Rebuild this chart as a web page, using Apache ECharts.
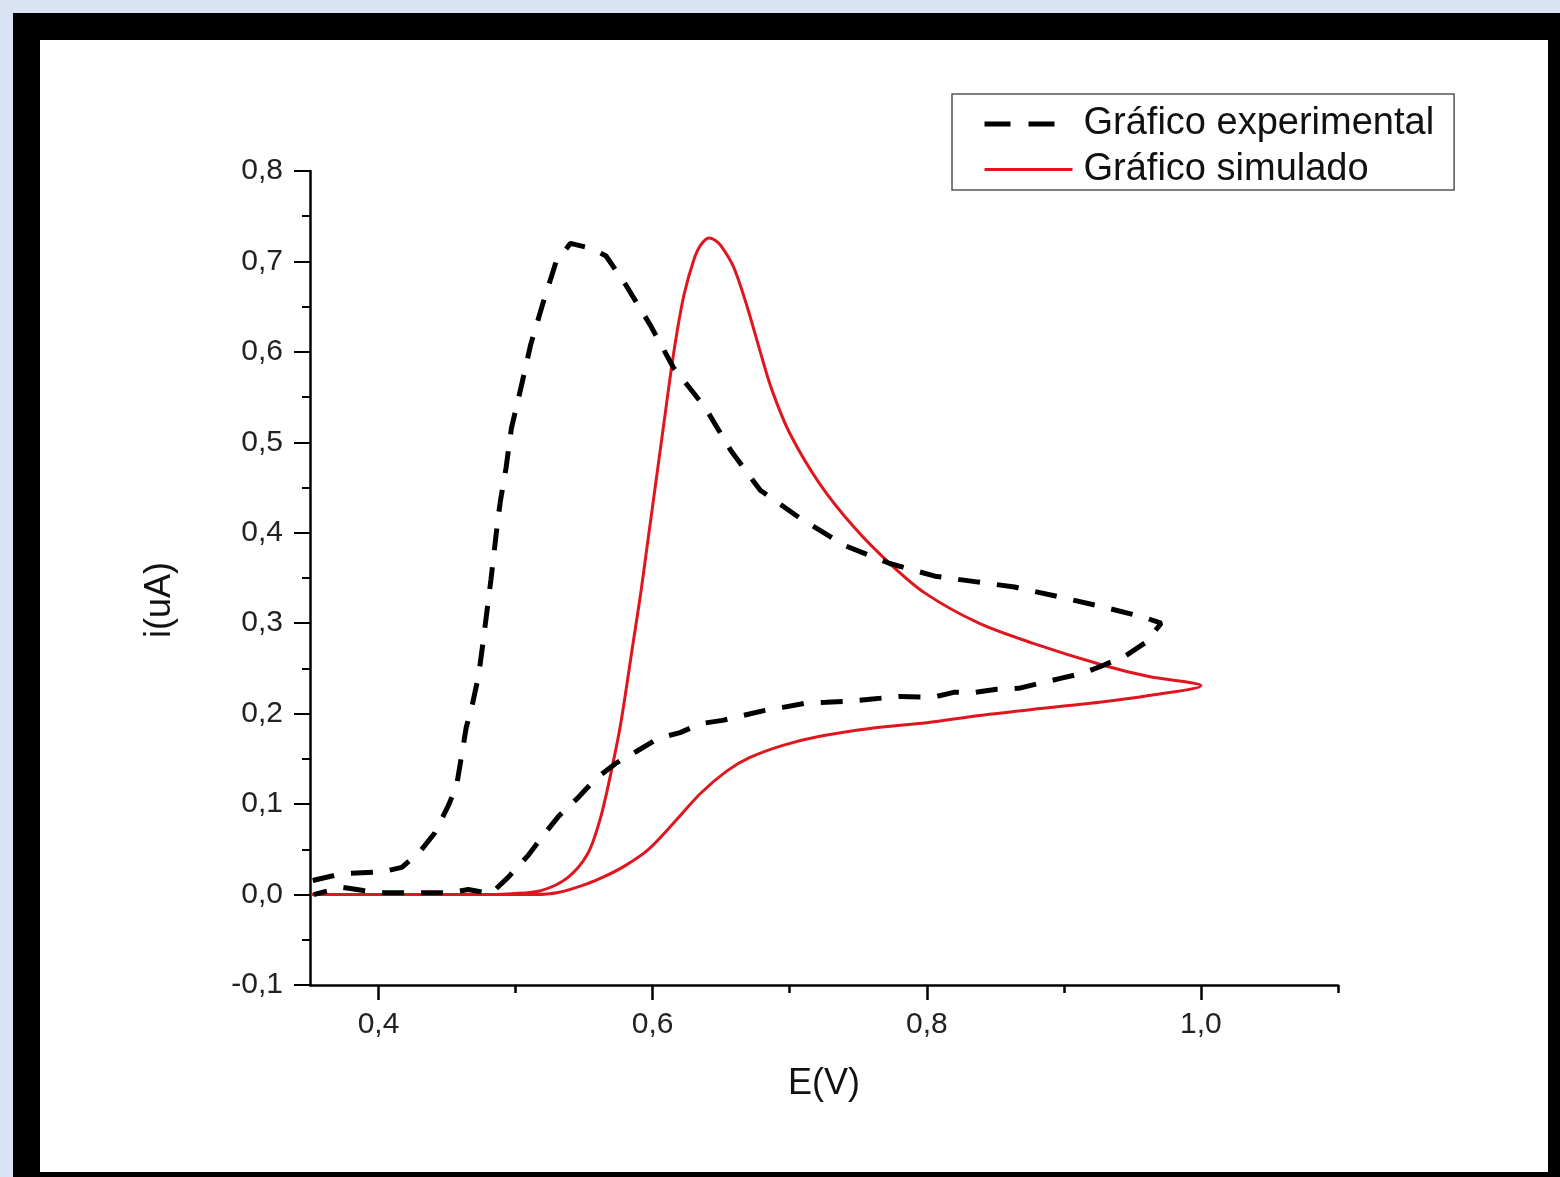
<!DOCTYPE html>
<html>
<head>
<meta charset="utf-8">
<script src="https://cdn.jsdelivr.net/npm/echarts@6/dist/echarts.min.js"></script>
<style>
  html, body { margin: 0; padding: 0; background: #dae3f3; }
  #frame { position: absolute; left: 13px; top: 13px; width: 1547px; height: 1164px; background: #000; }
  #main { position: absolute; left: 40px; top: 40px; width: 1508px; height: 1132px; background: #fff; }
</style>
</head>
<body>
<div id="frame"></div>
<div id="main"></div>
<script>
// curva experimental (varredura completa, na ordem do traçado)
const expE = [0.352, 0.373, 0.402, 0.417, 0.431, 0.441, 0.451, 0.457, 0.460, 0.464, 0.468, 0.473, 0.476, 0.482,
  0.487, 0.489, 0.493, 0.497, 0.504, 0.511, 0.520, 0.5295, 0.540, 0.556, 0.566, 0.580, 0.5985, 0.615, 0.6385,
  0.657, 0.6785, 0.7076, 0.740, 0.773, 0.806, 0.835, 0.864, 0.897, 0.926, 0.9585, 0.971,
  0.960, 0.9455, 0.929, 0.9135, 0.8975, 0.882, 0.867, 0.851, 0.8356, 0.8196, 0.8044, 0.780, 0.7585, 0.742,
  0.7265, 0.7105, 0.695, 0.682, 0.666, 0.651, 0.635, 0.620, 0.604, 0.589, 0.573, 0.5585, 0.5455, 0.5316,
  0.520, 0.509, 0.4945, 0.482, 0.4655, 0.451, 0.4335, 0.419, 0.4036, 0.389, 0.373, 0.3527];
const expI = [0.0155, 0.023, 0.025, 0.030, 0.049, 0.068, 0.0985, 0.121, 0.148, 0.185, 0.207, 0.242, 0.276, 0.348,
  0.414, 0.436, 0.4715, 0.516, 0.561, 0.608, 0.654, 0.6995, 0.720, 0.714, 0.706, 0.675, 0.629, 0.583, 0.538,
  0.491, 0.447, 0.416, 0.386, 0.366, 0.352, 0.346, 0.340, 0.329, 0.319, 0.3065, 0.300,
  0.279, 0.2645, 0.2535, 0.2446, 0.239, 0.2335, 0.228, 0.227, 0.2236, 0.2236, 0.218, 0.219, 0.216, 0.2136,
  0.2125, 0.2114, 0.207, 0.2036, 0.198, 0.1926, 0.189, 0.179, 0.1727, 0.159, 0.145, 0.128, 0.107, 0.087,
  0.065, 0.043, 0.019, 0.001, 0.0055, 0.002, 0.002, 0.002, 0.002, 0.0045, 0.008, 0.0];

// curva simulada
const simE = [0.351, 0.417, 0.475, 0.497, 0.5185, 0.538, 0.5527, 0.562, 0.5695, 0.5767, 0.586, 0.591, 0.5955,
  0.600, 0.6045, 0.609, 0.6135, 0.618, 0.623, 0.630, 0.635, 0.641, 0.645, 0.6495, 0.659, 0.669, 0.6785, 0.687,
  0.700, 0.7215, 0.747, 0.773, 0.799, 0.838, 0.877, 0.9287, 0.962, 1.0,
  0.962, 0.926, 0.877, 0.8385, 0.800, 0.7585, 0.722, 0.695, 0.671, 0.6545, 0.635, 0.615, 0.597, 0.580, 0.565,
  0.5527, 0.531, 0.5135, 0.453, 0.351];
const simI = [0.0, 0.0, 0.0, 0.001, 0.0044, 0.0188, 0.0454, 0.085, 0.134, 0.189, 0.281, 0.330, 0.380,
  0.430, 0.480, 0.530, 0.580, 0.624, 0.664, 0.7017, 0.718, 0.726, 0.724, 0.718, 0.694, 0.6497, 0.600, 0.558,
  0.510, 0.455, 0.406, 0.366, 0.333, 0.300, 0.278, 0.2535, 0.241, 0.231,
  0.220, 0.2125, 0.2047, 0.198, 0.190, 0.1837, 0.175, 0.165, 0.1516, 0.137, 0.112, 0.0786, 0.050, 0.032, 0.020,
  0.0122, 0.0022, 0.0, 0.0, 0.0];

const xMajorTicks = [0.4, 0.6, 0.8, 1.0];
const xMinorTicks = [0.5, 0.7, 0.9, 1.1];

const font = 'Liberation Sans, Arial, sans-serif';
const fmt = v => v.toFixed(1).replace('.', ',');

// eixo x auxiliar só com ticks
const tickAxis = (values, len) => ({
  type: 'value',
  min: 0.35,
  max: 1.1,
  position: 'bottom',
  splitLine: { show: false },
  axisLine: { show: false, onZero: false },
  axisTick: { customValues: values, length: len, lineStyle: { color: '#000', width: 2.5 } },
  axisLabel: { show: false }
});

const chart = echarts.init(document.getElementById('main'));
chart.setOption({
  animation: false,
  grid: { left: 270, top: 131, right: 210, bottom: 187 },
  legend: {
    data: [
      { name: 'Gráfico experimental', lineStyle: { type: [26, 18], width: 5 } },
      { name: 'Gráfico simulado', lineStyle: { width: 3 } }
    ],
    orient: 'vertical',
    left: 912,
    top: 54,
    itemWidth: 88,
    itemHeight: 6,
    itemGap: 7.5,
    padding: [11, 20, 1.5, 30],
    itemStyle: { opacity: 0 },
    borderColor: '#555',
    borderWidth: 1.5,
    textStyle: { fontSize: 38, fontFamily: font, color: '#111', lineHeight: 38, padding: [0, 0, 0, 6] }
  },
  xAxis: [
    {
      type: 'value',
      min: 0.35,
      max: 1.1,
      name: 'E(V)',
      nameLocation: 'middle',
      nameGap: 81,
      nameTextStyle: { fontSize: 36, fontFamily: font, color: '#111' },
      splitLine: { show: false },
      axisLine: { onZero: false, lineStyle: { color: '#000', width: 2.5 } },
      axisTick: { show: false },
      axisLabel: { customValues: xMajorTicks, formatter: fmt, margin: 25, fontSize: 30, fontFamily: font, color: '#222' }
    },
    tickAxis(xMajorTicks, 15),
    tickAxis(xMinorTicks, 8)
  ],
  yAxis: {
    type: 'value',
    min: -0.1,
    max: 0.8,
    interval: 0.1,
    name: 'i(uA)',
    nameLocation: 'middle',
    nameRotate: 90,
    nameGap: 132,
    nameTextStyle: { fontSize: 36, fontFamily: font, color: '#111', padding: [0, 44, 0, 0] },
    splitLine: { show: false },
    axisLine: { onZero: false, lineStyle: { color: '#000', width: 2.5 } },
    axisTick: { length: 16, lineStyle: { color: '#000', width: 2 } },
    minorTick: { show: true, splitNumber: 2, length: 8, lineStyle: { color: '#000', width: 2 } },
    axisLabel: { formatter: fmt, margin: 27, fontSize: 30, fontFamily: font, color: '#222' }
  },
  series: [
    {
      name: 'Gráfico simulado',
      type: 'line',
      showSymbol: false,
      symbol: 'none',
      smooth: 0.3,
      color: '#e0161e',
      lineStyle: { color: '#e0161e', width: 3 },
      data: simE.map((e, k) => [e, simI[k]])
    },
    {
      name: 'Gráfico experimental',
      type: 'line',
      showSymbol: false,
      symbol: 'none',
      color: '#000',
      lineStyle: { color: '#000', width: 5, type: [22, 17] },
      data: expE.map((e, k) => [e, expI[k]])
    }
  ]
});
</script>
</body>
</html>
